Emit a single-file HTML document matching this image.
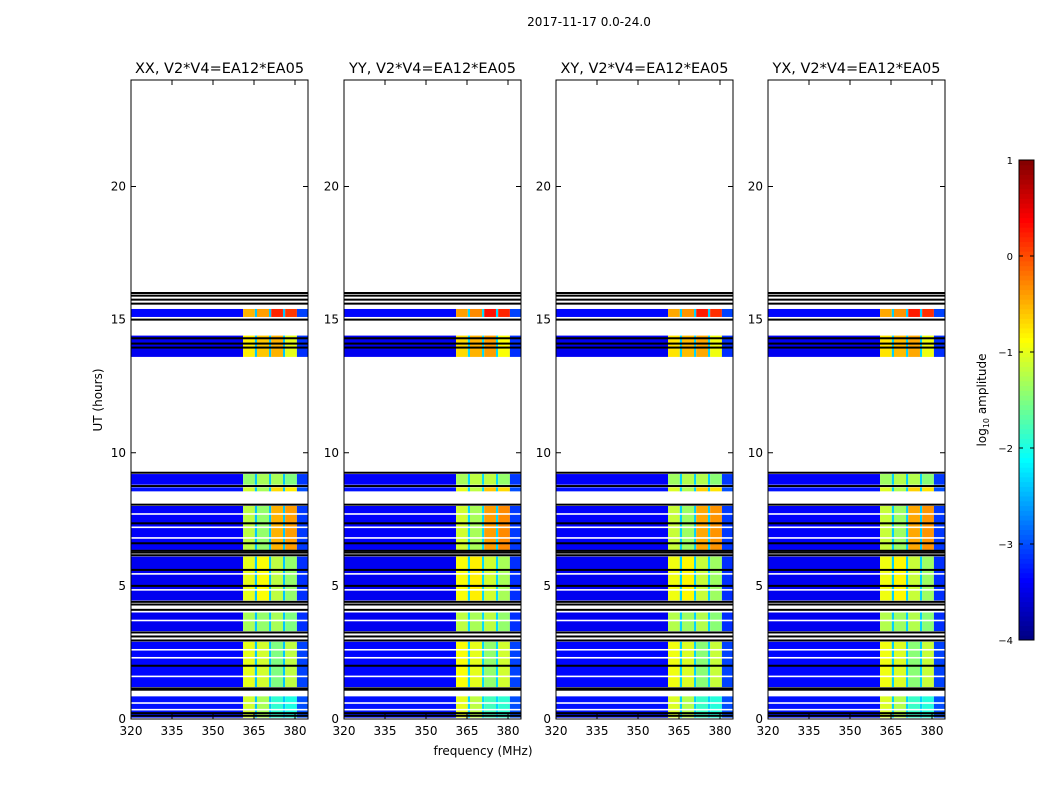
<!DOCTYPE html>
<html><head><meta charset="utf-8">
<style>
body{margin:0;background:#fff;font-family:"DejaVu Sans","Liberation Sans",sans-serif;}
svg text{font-family:"DejaVu Sans","Liberation Sans",sans-serif;fill:#000;}
</style></head>
<body>
<svg id="chart" width="1050" height="800" viewBox="0 0 1050 800">
<rect width="1050" height="800" fill="#fff"/>
<text x="589" y="26" font-size="12" text-anchor="middle">2017-11-17 0.0-24.0</text>
<text transform="translate(102,400) rotate(-90)" font-size="12" text-anchor="middle">UT (hours)</text>
<text x="483" y="755" font-size="12" text-anchor="middle">frequency (MHz)</text>
<g id="panels"></g>
<g id="cbar"></g>
</svg>
<script>
// ---- data ----
const panelTitles = ["XX, V2*V4=EA12*EA05","YY, V2*V4=EA12*EA05","XY, V2*V4=EA12*EA05","YX, V2*V4=EA12*EA05"];
const panelScale = [0, 0.1, 0.05, 0.05];
const freqEdges = [320, 361, 365.3, 366.1, 370.5, 371.3, 375.6, 376.4, 380.7, 385];
const blockStart = [0.05, 1.2, 3.3, 4.45, 6.35, 8.55, 8.8, 13.6, 15.1];
const blockEnd   = [0.85, 2.9, 4.0, 6.1, 8.0, 8.7, 9.2, 14.4, 15.4];
const blockBg    = [-3.3, -3.35, -3.45, -3.45, -3.4, -3.3, -3.4, -3.45, -3.35];
const band1 = [-1.1, -1.0, -1.3, -1.0, -1.2, -1.1, -1.4, -0.8, -0.5];
const band2 = [-1.3, -1.1, -1.4, -0.9, -1.4, -1.3, -1.3, -0.6, -0.4];
const band3 = [-1.9, -1.5, -1.3, -1.2, -0.5, -0.7, -1.3, -0.5, 0.2];
const band4 = [-2.0, -1.2, -1.5, -1.4, -0.4, -0.8, -1.5, -1.0, 0.1];
const gapLevel = -2.4;
const blackLines = [16.0,15.9,15.75,15.6,15.0,14.3,14.1,13.95,9.25,8.75,8.05,7.35,6.6,6.15,6.25,6.32,5.6,5.0,4.4,4.3,4.1,3.25,3.1,2.95,2.0,1.1,1.15,0.12,0.22];
const whiteLines = [7.7,7.2,6.8,5.45,4.85,3.7,2.6,2.3,1.6,0.6,0.35];
const yTicks = [0,5,10,15,20];
const xTicks = [320,335,350,365,380];
const cbTicks = [1,0,-1,-2,-3,-4];

const NS="http://www.w3.org/2000/svg";
function mk(tag,attrs,parent){const e=document.createElementNS(NS,tag);for(const k in attrs)e.setAttribute(k,attrs[k]);parent.appendChild(e);return e;}
function jet(v){
  const c=x=>Math.max(0,Math.min(1,x));
  const r=c(1.5-Math.abs(4*v-3)), g=c(1.5-Math.abs(4*v-2)), b=c(1.5-Math.abs(4*v-1));
  return `rgb(${Math.round(r*255)},${Math.round(g*255)},${Math.round(b*255)})`;
}
const col=l=>jet((l+4)/5);
const pTop=80, pBot=719, pw=177;
const yS=h=>pBot-(h/24)*(pBot-pTop);
const lefts=[131,344,556,768];
const panels=document.getElementById('panels');
lefts.forEach((L,p)=>{
  const xS=f=>L+(f-320)*164/60;
  const g=mk('g',{},panels);
  
  
  blockStart.forEach((t0,i)=>{
    const t1=blockEnd[i];
    const levels=[blockBg[i],band1[i],gapLevel,band2[i],gapLevel,band3[i],gapLevel,band4[i],blockBg[i]+0.3];
    for(let k=0;k<freqEdges.length-1;k++){
      const lv=k===0||k===8?levels[k]:levels[k]+panelScale[p];
      const r=mk('rect',{x:xS(freqEdges[k]),y:yS(t1),width:Math.min(xS(freqEdges[k+1]),L+pw)-xS(freqEdges[k]),height:yS(t0)-yS(t1),fill:col(lv)},g);
      
      
    }
  });
  whiteLines.forEach(h=>{const r=mk('rect',{x:L,y:yS(h)-0.8,width:pw,height:1.6,fill:'#fff'},g);
    
    });
  blackLines.forEach(h=>{const r=mk('rect',{x:L,y:yS(h)-1,width:pw,height:2,fill:'#000'},g);
    
    });
  const fr=mk('rect',{x:L,y:pTop,width:pw,height:pBot-pTop,fill:'none',stroke:'#000','stroke-width':1},g);
  
  
  const t=mk('text',{x:L+pw/2,y:73,'font-size':14.5,'text-anchor':'middle'},g);t.textContent=panelTitles[p];
  
  
  yTicks.forEach(v=>{const y=yS(v);
    mk('line',{x1:L,x2:L+5,y1:y,y2:y,stroke:'#000'},g);mk('line',{x1:L+pw-5,x2:L+pw,y1:y,y2:y,stroke:'#000'},g);
    const tx=mk('text',{x:L-5,y:y+4,'font-size':12,'text-anchor':'end'},g);tx.textContent=v;
    
    });
  xTicks.forEach(v=>{const x=xS(v);
    mk('line',{x1:x,x2:x,y1:pBot,y2:pBot-5,stroke:'#000'},g);mk('line',{x1:x,x2:x,y1:pTop,y2:pTop+5,stroke:'#000'},g);
    const tx=mk('text',{x:x,y:pBot+16,'font-size':12,'text-anchor':'middle'},g);tx.textContent=v;
    
    });
});
const cb=document.getElementById('cbar');
const cx=1019,cw=15,ct=160,cbt=640;
const cyS=v=>cbt-(v+4)/5*(cbt-ct);
for(let i=0;i<100;i++){const v0=-4+i*0.05;
  const r=mk('rect',{x:cx,y:cyS(v0+0.05),width:cw,height:(cbt-ct)/100+0.5,fill:col(v0+0.025)},cb);
  
  }
const cf=mk('rect',{x:cx,y:ct,width:cw,height:cbt-ct,fill:'none',stroke:'#000'},cb);


cbTicks.forEach(v=>{const y=cyS(v);
  mk('line',{x1:cx,x2:cx+4,y1:y,y2:y,stroke:'#000'},cb);mk('line',{x1:cx+cw-4,x2:cx+cw,y1:y,y2:y,stroke:'#000'},cb);
  const t=mk('text',{x:cx-6,y:y+4,'font-size':10,'text-anchor':'end'},cb);t.textContent=v<0?'\u2212'+(-v):v;
  
  });
const cl=mk('text',{transform:'translate(986,400) rotate(-90)','font-size':12,'text-anchor':'middle'},cb);
const s1=mk('tspan',{},cl);s1.textContent='log';
const s2=mk('tspan',{'font-size':8,dy:3},cl);s2.textContent='10';
const s3=mk('tspan',{dy:-3},cl);s3.textContent=' amplitude';


</script>
</body></html>
